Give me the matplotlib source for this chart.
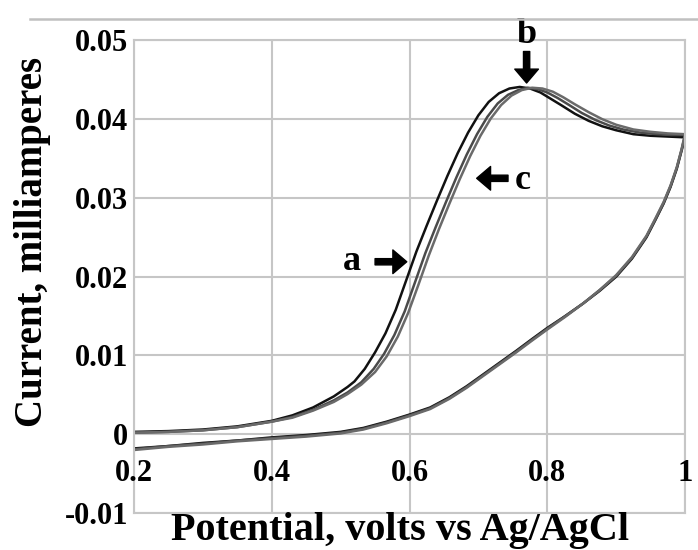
import numpy as np
import matplotlib
matplotlib.use('Agg')
import matplotlib.pyplot as plt

# 曲线数据 (电位 V, 电流 mA)，正扫
pot_a_fwd = [0.2, 0.25, 0.3, 0.35, 0.4, 0.43, 0.46, 0.49, 0.51, 0.52, 0.535, 0.55, 0.565, 0.58, 0.595,
             0.61, 0.625, 0.64, 0.655, 0.67, 0.685, 0.70, 0.715, 0.73, 0.745, 0.76, 0.775, 0.79, 0.805,
             0.82, 0.84, 0.86, 0.88, 0.9, 0.925, 0.95, 0.975, 1.0]
cur_a_fwd = [0.0003, 0.0004, 0.0006, 0.0010, 0.0017, 0.0024, 0.0034, 0.0048, 0.0060, 0.0067, 0.0083,
             0.0104, 0.0128, 0.0158, 0.0195, 0.0232, 0.0265, 0.0297, 0.0328, 0.0357, 0.0383, 0.0405,
             0.0422, 0.0433, 0.0439, 0.0441, 0.0439, 0.0434, 0.0426, 0.0418, 0.0407, 0.0398, 0.0391,
             0.0386, 0.0381, 0.0379, 0.0378, 0.0377]

pot_b_fwd = [0.2, 0.25, 0.3, 0.35, 0.4, 0.43, 0.46, 0.49, 0.51, 0.53, 0.548, 0.563, 0.578, 0.593, 0.608,
             0.623, 0.638, 0.653, 0.668, 0.683, 0.698, 0.713, 0.728, 0.743, 0.758, 0.772, 0.787, 0.80,
             0.815, 0.83, 0.85, 0.87, 0.89, 0.91, 0.935, 0.96, 0.98, 1.0]
cur_b_fwd = [0.0002, 0.0003, 0.0005, 0.0009, 0.0016, 0.0022, 0.0031, 0.0043, 0.0053, 0.0066, 0.0083,
             0.0102, 0.0126, 0.0156, 0.0193, 0.0230, 0.0263, 0.0295, 0.0326, 0.0355, 0.0381, 0.0403,
             0.0420, 0.0431, 0.0437, 0.0440, 0.0438, 0.0434, 0.0427, 0.0419, 0.0408, 0.0399, 0.0392,
             0.0387, 0.0383, 0.0381, 0.0380, 0.0380]

pot_c_fwd = [0.2, 0.25, 0.3, 0.35, 0.4, 0.43, 0.46, 0.49, 0.51, 0.53, 0.55, 0.567, 0.583, 0.598, 0.613,
             0.628, 0.643, 0.658, 0.673, 0.688, 0.703, 0.718, 0.733, 0.748, 0.763, 0.778, 0.793, 0.808,
             0.823, 0.84, 0.86, 0.88, 0.90, 0.925, 0.95, 0.975, 1.0]
cur_c_fwd = [0.0002, 0.0003, 0.0005, 0.0009, 0.0016, 0.0021, 0.0030, 0.0041, 0.0051, 0.0063, 0.0079,
             0.0099, 0.0124, 0.0154, 0.0190, 0.0227, 0.0261, 0.0293, 0.0324, 0.0353, 0.0379, 0.0401,
             0.0418, 0.0430, 0.0437, 0.0440, 0.0439, 0.0435, 0.0428, 0.0419, 0.0409, 0.0400, 0.0393,
             0.0387, 0.0384, 0.0382, 0.0381]

# 回扫 (1.0 -> 0.2)
pot_rev = [1.0, 0.995, 0.988, 0.979, 0.969, 0.957, 0.944, 0.923, 0.90, 0.876, 0.852, 0.826, 0.80, 0.778,
           0.755, 0.731, 0.707, 0.683, 0.658, 0.63, 0.6, 0.567, 0.533, 0.5, 0.45, 0.4, 0.35, 0.3, 0.25, 0.2]
cur_a_rev = [0.0377, 0.0360, 0.0337, 0.0314, 0.0293, 0.0272, 0.0250, 0.0223, 0.0200, 0.0182, 0.0166,
             0.0150, 0.0135, 0.0121, 0.0106, 0.0091, 0.0076, 0.0061, 0.0047, 0.0034, 0.0025, 0.0016,
             0.0008, 0.0003, -0.0001, -0.0004, -0.0008, -0.0011, -0.0015, -0.0018]
cur_b_rev = [0.0380, 0.0361, 0.0338, 0.0315, 0.0294, 0.0273, 0.0251, 0.0224, 0.0201, 0.0183, 0.0166,
             0.0150, 0.0134, 0.0120, 0.0105, 0.0090, 0.0075, 0.0060, 0.0046, 0.0033, 0.0024, 0.0015,
             0.0007, 0.0002, -0.0002, -0.0005, -0.0008, -0.0012, -0.0015, -0.0019]
cur_c_rev = [0.0381, 0.0362, 0.0339, 0.0316, 0.0295, 0.0274, 0.0252, 0.0225, 0.0202, 0.0183, 0.0166,
             0.0149, 0.0133, 0.0119, 0.0104, 0.0089, 0.0074, 0.0059, 0.0045, 0.0032, 0.0023, 0.0014,
             0.0006, 0.0001, -0.0003, -0.0006, -0.0009, -0.0013, -0.0016, -0.0020]

x_ticks = [0.2, 0.4, 0.6, 0.8, 1.0]
x_labels = ['0.2', '0.4', '0.6', '0.8', '1']
y_ticks = [-0.01, 0, 0.01, 0.02, 0.03, 0.04, 0.05]
y_labels = ['-0.01', '0', '0.01', '0.02', '0.03', '0.04', '0.05']

plt.rcParams['font.family'] = ['Liberation Serif', 'DejaVu Serif']
plt.rcParams['font.weight'] = 'bold'

fig = plt.figure(figsize=(6.98, 5.5), dpi=100)
ax = fig.add_axes([0.192, 0.0673, 0.7894, 0.8591])

grid_c = '#c6c6c6'
ax.plot(pot_a_fwd + pot_rev, cur_a_fwd + cur_a_rev, color='#111111', linewidth=1.8)
ax.plot(pot_b_fwd + pot_rev, cur_b_fwd + cur_b_rev, color='#4a4a4a', linewidth=1.8)
ax.plot(pot_c_fwd + pot_rev, cur_c_fwd + cur_c_rev, color='#6a6a6a', linewidth=1.8)

ax.set_xlim(0.2, 1.0)
ax.set_ylim(-0.01, 0.05)

# 网格和边框
ax.set_xticks(x_ticks)
ax.set_xticklabels([])
ax.set_yticks(y_ticks)
ax.set_yticklabels(y_labels, fontsize=22, fontweight='bold')
ax.tick_params(axis='both', length=0)
ax.tick_params(axis='y', pad=4)
ax.grid(True, color=grid_c, linewidth=1.5)
ax.set_axisbelow(True)
for s in ax.spines.values():
    s.set_color(grid_c)
    s.set_linewidth(1.5)

# x 刻度标签放在 y=0 下面（Excel 风格）
for xt, lab in zip(x_ticks, x_labels):
    ax.text(xt, -0.005, lab, ha='center', va='center', fontsize=22, fontweight='bold', clip_on=False)

# 箭头和字母
arrow_kw = dict(facecolor='black', edgecolor='black', width=4.5, headwidth=17, headlength=10, shrink=0)
ax.annotate('', xy=(0.596, 0.0219), xytext=(0.550, 0.0219), arrowprops=arrow_kw)
ax.text(0.5165, 0.0219, 'a', ha='center', va='center', fontsize=26, fontweight='bold')
ax.annotate('', xy=(0.6975, 0.0325), xytext=(0.743, 0.0325), arrowprops=arrow_kw)
ax.text(0.765, 0.0322, 'c', ha='center', va='center', fontsize=26, fontweight='bold')
ax.annotate('', xy=(0.770, 0.0446), xytext=(0.770, 0.0486), arrowprops=arrow_kw, annotation_clip=False)
ax.text(0.7706, 0.0508, 'b', ha='center', va='center', fontsize=26, fontweight='bold', clip_on=False)

# 坐标轴标题
fig.text(0.573, 0.035, 'Potential, volts vs Ag/AgCl', ha='center', va='center', fontsize=29, fontweight='bold')
fig.text(0.046, 0.56, 'Current, milliamperes', ha='center', va='center', rotation=90, fontsize=28,
         fontweight='bold')

# 顶部的横线
fig.add_artist(plt.Line2D([0.043, 1.0], [0.966, 0.966], color='#c0c0c0', linewidth=1.8))

fig.savefig('out.png', dpi=100)
